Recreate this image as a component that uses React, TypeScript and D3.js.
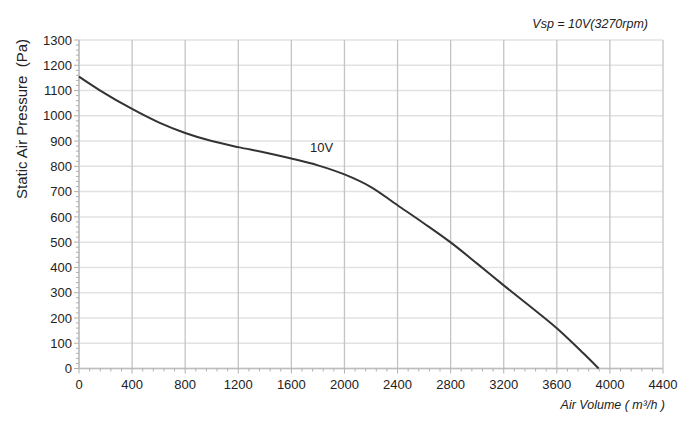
import * as d3 from "d3";

const WIDTH = 700;
const HEIGHT = 421;
const MARGIN = { top: 40, right: 37, bottom: 52.5, left: 79 };

// fan curve
const airVolume = [0, 160, 400, 600, 800, 1000, 1200, 1400, 1600, 1800, 2000, 2200, 2400, 2600, 2800, 3000, 3200, 3400, 3600, 3800, 3915];
const pressure = [1155, 1100, 1027, 974, 932, 900, 876, 855, 831, 804, 768, 718, 646, 574, 499, 415, 329, 245, 159, 60, 0];

const xTicks = [0, 400, 800, 1200, 1600, 2000, 2400, 2800, 3200, 3600, 4000, 4400];
const yTicks = [0, 100, 200, 300, 400, 500, 600, 700, 800, 900, 1000, 1100, 1200, 1300];

const FONT = "Liberation Sans, Arial, sans-serif";

export default function App() {
  const boundsWidth = WIDTH - MARGIN.left - MARGIN.right;
  const boundsHeight = HEIGHT - MARGIN.top - MARGIN.bottom;

  const xScale = d3.scaleLinear().domain([0, 4400]).range([0, boundsWidth]);
  const yScale = d3.scaleLinear().domain([0, 1300]).range([boundsHeight, 0]);

  const xMinor = d3.range(0, 4400 + 1, 80);
  const yMinor = d3.range(0, 1300 + 1, 20);

  const line = d3
    .line<number>()
    .x((_, i) => xScale(airVolume[i]))
    .y((d) => yScale(d))
    .curve(d3.curveCatmullRom.alpha(0.5));

  return (
    <svg
      width={WIDTH}
      height={HEIGHT}
      style={{ position: "absolute", left: 0, top: 0, background: "#fff" }}
    >
      <g transform={`translate(${MARGIN.left},${MARGIN.top})`}>
        {/* horizontal grid */}
        {yTicks.map((t) => (
          <line key={"h" + t} x1={0} x2={boundsWidth} y1={yScale(t)} y2={yScale(t)} stroke="#e2e2e2" strokeWidth={1.5} />
        ))}
        {/* vertical grid */}
        {xTicks.map((t) => (
          <line key={"v" + t} x1={xScale(t)} x2={xScale(t)} y1={0} y2={boundsHeight} stroke="#c4c4c4" strokeWidth={1.3} />
        ))}
        {/* axes */}
        <line x1={0} x2={boundsWidth} y1={boundsHeight} y2={boundsHeight} stroke="#bdbdbd" strokeWidth={1.3} />
        <line x1={0} x2={0} y1={0} y2={boundsHeight} stroke="#bdbdbd" strokeWidth={1.3} />
        {xMinor.map((t) => (
          <line key={"xm" + t} x1={xScale(t)} x2={xScale(t)} y1={boundsHeight} y2={boundsHeight + (t % 400 === 0 ? 5 : 3)} stroke="#b0b0b0" strokeWidth={1} />
        ))}
        {yMinor.map((t) => (
          <line key={"ym" + t} x1={t % 100 === 0 ? -5 : -3} x2={0} y1={yScale(t)} y2={yScale(t)} stroke="#b0b0b0" strokeWidth={1} />
        ))}
        {xTicks.map((t) => (
          <text key={"xl" + t} x={xScale(t)} y={boundsHeight + 20.5} textAnchor="middle" fontFamily={FONT} fontSize={13} fill="#222">
            {t}
          </text>
        ))}
        {yTicks.map((t) => (
          <text key={"yl" + t} x={-7} y={yScale(t)} dy="0.36em" textAnchor="end" fontFamily={FONT} fontSize={13} fill="#222">
            {t}
          </text>
        ))}
        <path d={line(pressure) ?? ""} fill="none" stroke="#333" strokeWidth={2} />
        <text x={xScale(1740)} y={yScale(855)} fontFamily={FONT} fontSize={13} fill="#222">
          10V
        </text>
      </g>
      <text
        transform={`translate(27,${MARGIN.top + 79}) rotate(-90)`}
        textAnchor="middle"
        fontFamily={FONT}
        fontSize={15}
        fill="#222"
        style={{ whiteSpace: "pre" }}
      >
        {"Static Air Pressure  (Pa)"}
      </text>
      <text x={648} y={28} textAnchor="end" fontFamily={FONT} fontSize={12.5} fontStyle="italic" fill="#222">
        Vsp = 10V(3270rpm)
      </text>
      <text x={665} y={409} textAnchor="end" fontFamily={FONT} fontSize={12.5} fontStyle="italic" fill="#222">
        Air Volume ( m³/h )
      </text>
    </svg>
  );
}
